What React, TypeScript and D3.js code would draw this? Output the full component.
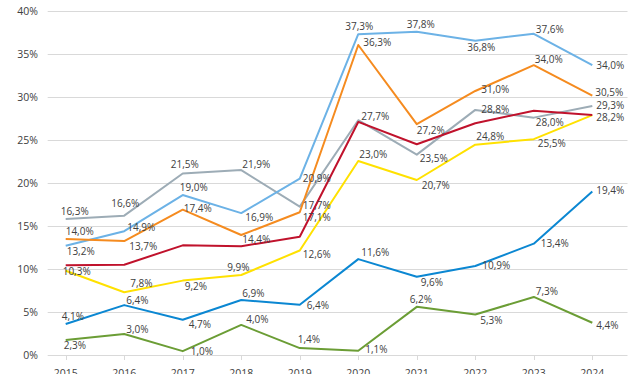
import React, { useEffect, useRef } from 'react'
import * as d3 from 'd3'

const years = ['2015', '2016', '2017', '2018', '2019', '2020', '2021', '2022', '2023', '2024']
const yTicks = [0, 5, 10, 15, 20, 25, 30, 35, 40]

// plotted values (percent)
const grayValues = [15.8, 16.2, 21.1, 21.5, 17.25, 27.3, 23.3, 28.5, 27.6, 28.95]
const lightBlueValues = [12.7, 14.4, 18.6, 16.5, 20.5, 37.3, 37.6, 36.55, 37.35, 33.7]
const orangeValues = [13.5, 13.25, 16.9, 13.95, 16.6, 36.05, 26.85, 30.7, 33.7, 30.15]
const redValues = [10.45, 10.5, 12.75, 12.65, 13.75, 27.1, 24.5, 26.95, 28.4, 27.9]
const yellowValues = [9.8, 7.3, 8.65, 9.3, 12.15, 22.55, 20.35, 24.45, 25.1, 27.9]
const blueValues = [3.6, 5.8, 4.1, 6.4, 5.85, 11.15, 9.1, 10.35, 12.95, 19.0]
const greenValues = [1.75, 2.45, 0.45, 3.5, 0.8, 0.5, 5.6, 4.7, 6.75, 3.75]

// data labels as printed
const grayLabels = ['16,3%', '16,6%', '21,5%', '21,9%', '17,7%', '27,7%', '23,5%', '28,8%', '28,0%', '29,3%']
const lightBlueLabels = ['13,2%', '14,9%', '19,0%', '16,9%', '20,9%', '37,3%', '37,8%', '36,8%', '37,6%', '34,0%']
const orangeLabels = ['14,0%', '13,7%', '17,4%', '14,4%', '17,1%', '36,3%', '27,2%', '31,0%', '34,0%', '30,5%']
const yellowLabels = ['10,3%', '7,8%', '9,2%', '9,9%', '12,6%', '23,0%', '20,7%', '24,8%', '25,5%', '28,2%']
const blueLabels = ['4,1%', '6,4%', '4,7%', '6,9%', '6,4%', '11,6%', '9,6%', '10,9%', '13,4%', '19,4%']
const greenLabels = ['2,3%', '3,0%', '1,0%', '4,0%', '1,4%', '1,1%', '6,2%', '5,3%', '7,3%', '4,4%']

// label placement: [left edge offset, vertical centre offset] from the point
const grayOffsets = [[-5, -8], [-13, -12], [-12, -9], [1, -6], [3, -1], [3, -4], [3, 4], [6, 0], [2, 5], [4, -1]]
const lightBlueOffsets = [[1, 6], [3, -3.5], [-3, -7.5], [4, 4], [3, 0], [-13, -7.5], [-10, -7], [-8, 7], [2, -4.5], [4, 0]]
const orangeOffsets = [[0, -7], [5, 5], [1, -1], [1, 4], [3, 5], [5, -2], [0, 6], [6, -1], [1, -6], [3, -3.5]]
const yellowOffsets = [[-3, 0.5], [6, -9], [2, 6], [-14, -8], [3, 3.5], [1, -7], [5, 6], [1, -8.5], [4, 4.5], [4, 2]]
const blueOffsets = [[-4, -7.5], [2, -5], [6, 5], [1, -6], [7, 1], [3, -7], [4, 5.5], [7, 0], [7, 0], [4, -1]]
const greenOffsets = [[-2, 6], [2, -4.5], [8, 0], [5, -5], [-2, -9], [7, -1], [-7, -7], [5, 6], [2, -5], [4, 3]]

const series = [
  { values: grayValues, labels: grayLabels, offsets: grayOffsets, color: '#9dacb6' },
  { values: lightBlueValues, labels: lightBlueLabels, offsets: lightBlueOffsets, color: '#6cb2e6' },
  { values: orangeValues, labels: orangeLabels, offsets: orangeOffsets, color: '#f58b1f' },
  { values: yellowValues, labels: yellowLabels, offsets: yellowOffsets, color: '#ffe100' },
  { values: blueValues, labels: blueLabels, offsets: blueOffsets, color: '#0b87d2' },
  { values: greenValues, labels: greenLabels, offsets: greenOffsets, color: '#6b9d35' },
  { values: redValues, labels: null, offsets: null, color: '#c0122c' },
]

export default function App() {
  const ref = useRef<SVGSVGElement>(null)

  useEffect(() => {
    const svg = d3.select(ref.current)
    svg.selectAll('*').remove()

    const left = 47.7
    const right = 627.5

    const x = d3.scalePoint().domain(years).range([65.7, 592.3])
    const y = d3.scaleLinear().domain([0, 40]).range([355, 11])

    // gridlines
    svg.append('g')
      .selectAll('line')
      .data(yTicks)
      .enter()
      .append('line')
      .attr('x1', left)
      .attr('x2', right)
      .attr('y1', d => Math.round(y(d)) + 0.5)
      .attr('y2', d => Math.round(y(d)) + 0.5)
      .style('stroke', '#d9d9d9')
      .style('stroke-width', 1)

    // y labels
    svg.append('g')
      .selectAll('text')
      .data(yTicks)
      .enter()
      .append('text')
      .attr('x', 38)
      .attr('y', d => y(d))
      .attr('dy', '0.36em')
      .attr('text-anchor', 'end')
      .style('font-family', 'Open Sans')
      .style('font-size', '10.5px')
      .style('fill', '#404040')
      .text(d => d + '%')

    // x ticks + labels
    const xa = svg.append('g')
    xa.selectAll('line')
      .data(years)
      .enter()
      .append('line')
      .attr('x1', d => Math.round(x(d)!) + 0.5)
      .attr('x2', d => Math.round(x(d)!) + 0.5)
      .attr('y1', y(0))
      .attr('y2', y(0) + 5)
      .style('stroke', '#d9d9d9')
    xa.selectAll('text')
      .data(years)
      .enter()
      .append('text')
      .attr('x', d => x(d)!)
      .attr('y', 377)
      .attr('text-anchor', 'middle')
      .style('font-family', 'Open Sans')
      .style('font-size', '10.5px')
      .style('fill', '#404040')
      .text(d => d)

    const line = d3.line<number>()
      .x((d, i) => x(years[i])!)
      .y(d => y(d))

    for (const s of series) {
      svg.append('path')
        .datum(s.values)
        .attr('d', line)
        .style('fill', 'none')
        .style('stroke', s.color)
        .style('stroke-width', 2)
        .style('stroke-linejoin', 'round')
    }

    for (const s of series) {
      if (!s.labels) continue
      svg.append('g')
        .selectAll('text')
        .data(s.values)
        .enter()
        .append('text')
        .attr('x', (d, i) => x(years[i])! + s.offsets![i][0])
        .attr('y', (d, i) => y(d) + s.offsets![i][1])
        .attr('dy', '0.35em')
        .style('font-family', 'Open Sans')
        .style('font-size', '10px')
        .style('fill', '#404040')
        .text((d, i) => s.labels![i])
    }
  }, [])

  return (
    <svg
      ref={ref}
      width={640}
      height={374}
      style={{ position: 'absolute', left: 0, top: 0, background: '#fff' }}
    />
  )
}
